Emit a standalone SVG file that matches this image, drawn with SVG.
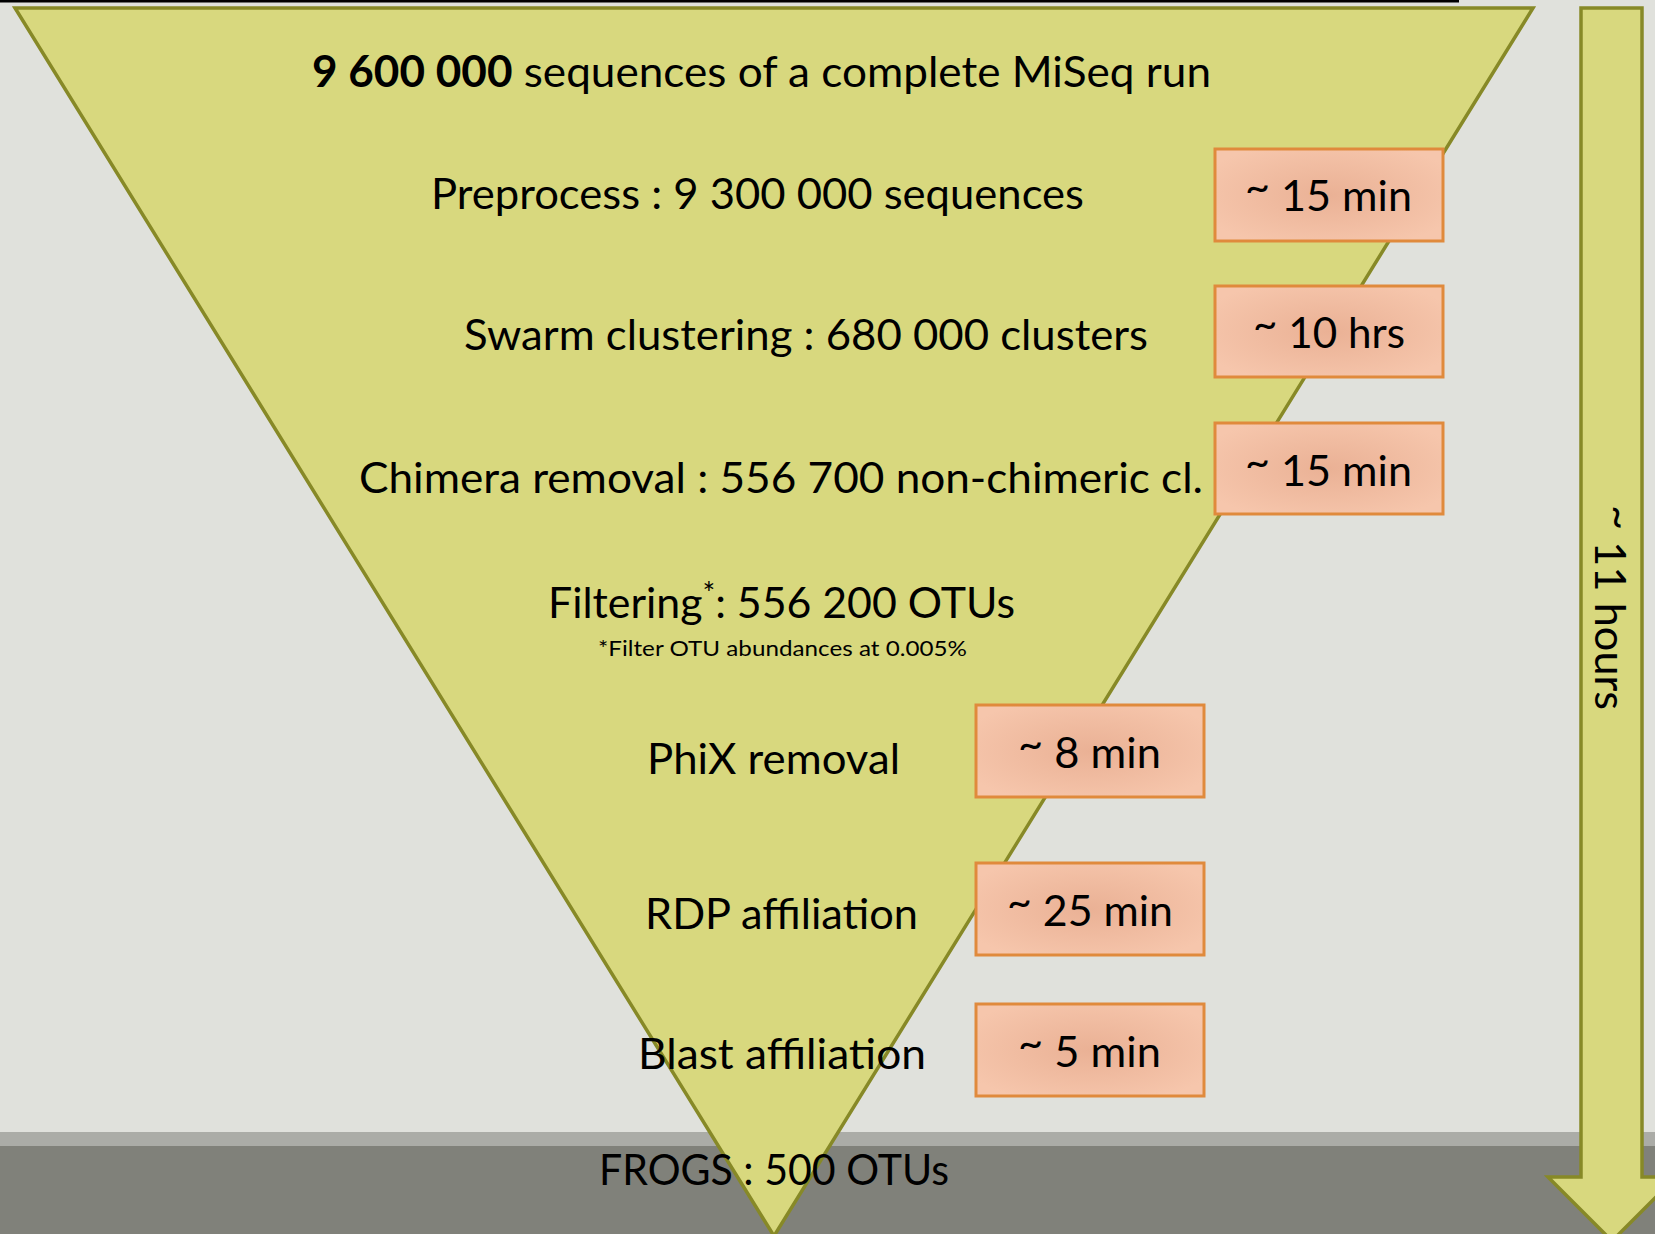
<svg xmlns="http://www.w3.org/2000/svg" width="1655" height="1234" viewBox="0 0 1655 1234">
<defs>
<radialGradient id="boxg" cx="50%" cy="50%" r="60%">
<stop offset="0" stop-color="#eab195"/>
<stop offset="1" stop-color="#f6c6ac"/>
</radialGradient>
<style>
.t{font-family:Lato,"Open Sans","Liberation Sans",sans-serif;fill:#000;font-size:43px}
.s{font-size:22px}
.box{fill:url(#boxg);stroke:#e08a3c;stroke-width:3}
.tri{fill:#d8d87e;stroke:#878927;stroke-width:3.5;stroke-linejoin:miter}
</style>
</defs>
<rect x="0" y="0" width="1655" height="1234" fill="#e0e1dc"/>
<rect x="0" y="1132" width="1655" height="14" fill="#abaca7"/>
<rect x="0" y="1146" width="1655" height="88" fill="#80817a"/>
<rect x="0" y="0" width="1459" height="2.5" fill="#000"/>

<g id="funnel">
<polygon class="tri" points="15,8 1533,8 774,1236"/>
</g>

<g id="connectors">
<polygon class="tri" points="1581,8 1642,8 1642,1177 1676,1177 1612,1241 1548,1177 1581,1177"/>
</g>

<g id="total-time">
<text class="t" transform="translate(1595,505) rotate(90)" textLength="205" lengthAdjust="spacingAndGlyphs"><tspan dy="-9">~</tspan><tspan dy="9"> 11 hours</tspan></text>
</g>

<g id="input">
<text class="t" x="312" y="87" textLength="899" lengthAdjust="spacingAndGlyphs"><tspan font-weight="bold">9 600 000</tspan> sequences of a complete MiSeq run</text>
</g>

<g id="preprocess">
<text class="t" x="431" y="209" textLength="653" lengthAdjust="spacingAndGlyphs">Preprocess : 9 300 000 sequences</text>
</g>
<g id="preprocess-time">
<rect class="box" x="1215" y="149" width="228" height="92"/>
<text class="t" x="1245" y="211" textLength="167" lengthAdjust="spacingAndGlyphs"><tspan dy="-9">~</tspan><tspan dy="9"> 15 min</tspan></text>
</g>

<g id="swarm">
<text class="t" x="464" y="350" textLength="684" lengthAdjust="spacingAndGlyphs">Swarm clustering : 680 000 clusters</text>
</g>
<g id="swarm-time">
<rect class="box" x="1215" y="286" width="228" height="91"/>
<text class="t" x="1253" y="348" textLength="152" lengthAdjust="spacingAndGlyphs"><tspan dy="-9">~</tspan><tspan dy="9"> 10 hrs</tspan></text>
</g>

<g id="chimera">
<text class="t" x="359" y="493" textLength="844" lengthAdjust="spacingAndGlyphs">Chimera removal : 556 700 non-chimeric cl.</text>
</g>
<g id="chimera-time">
<rect class="box" x="1215" y="423" width="228" height="91"/>
<text class="t" x="1245" y="486" textLength="167" lengthAdjust="spacingAndGlyphs"><tspan dy="-9">~</tspan><tspan dy="9"> 15 min</tspan></text>
</g>

<g id="filtering">
<text class="t" x="548" y="618" textLength="467" lengthAdjust="spacingAndGlyphs">Filtering<tspan font-size="30" dy="-14">*</tspan><tspan dy="14">: 556 200 OTUs</tspan></text>
<text class="t s" x="598" y="656" textLength="369" lengthAdjust="spacingAndGlyphs">*Filter OTU abundances at 0.005%</text>
</g>

<g id="phix">
<text class="t" x="647" y="774" textLength="253" lengthAdjust="spacingAndGlyphs">PhiX removal</text>
</g>
<g id="phix-time">
<rect class="box" x="976" y="705" width="228" height="92"/>
<text class="t" x="1018" y="768" textLength="143" lengthAdjust="spacingAndGlyphs"><tspan dy="-9">~</tspan><tspan dy="9"> 8 min</tspan></text>
</g>

<g id="rdp">
<text class="t" x="645" y="929" textLength="273" lengthAdjust="spacingAndGlyphs">RDP affiliation</text>
</g>
<g id="rdp-time">
<rect class="box" x="976" y="863" width="228" height="92"/>
<text class="t" x="1007" y="926" textLength="166" lengthAdjust="spacingAndGlyphs"><tspan dy="-9">~</tspan><tspan dy="9"> 25 min</tspan></text>
</g>

<g id="blast">
<text class="t" x="638" y="1069" textLength="288" lengthAdjust="spacingAndGlyphs">Blast affiliation</text>
</g>
<g id="blast-time">
<rect class="box" x="976" y="1004" width="228" height="92"/>
<text class="t" x="1018" y="1067" textLength="143" lengthAdjust="spacingAndGlyphs"><tspan dy="-9">~</tspan><tspan dy="9"> 5 min</tspan></text>
</g>

<g id="output">
<text class="t" x="599" y="1185" textLength="350" lengthAdjust="spacingAndGlyphs">FROGS : 500 OTUs</text>
</g>
</svg>
